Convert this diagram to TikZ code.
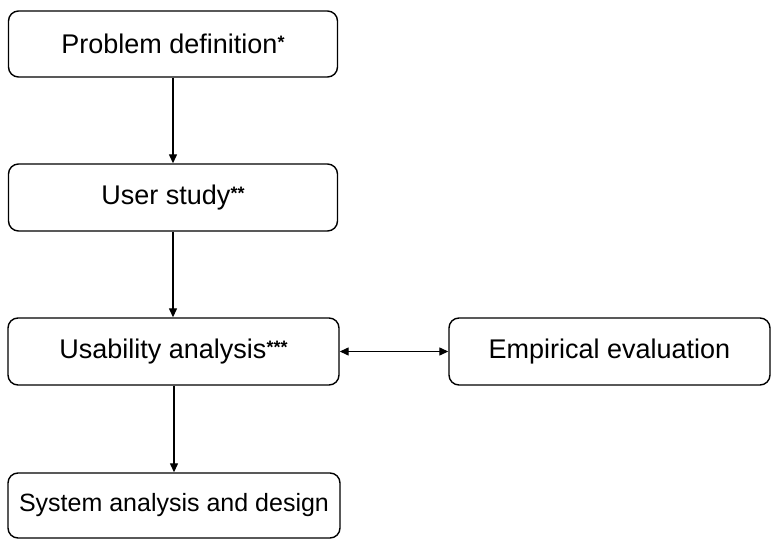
\documentclass[tikz,border=0pt]{standalone}
\usepackage{fontspec}
\setmainfont{Liberation Sans}
\usetikzlibrary{arrows.meta}
\tikzset{
  box/.style={draw=black, line width=1.4pt, rounded corners=10pt, fill=white,
    inner sep=0pt, font=\fontsize{27}{30}\selectfont},
  flow/.style={draw=black, line width=1.3pt, -{Triangle[length=9pt,width=8pt]}},
  both/.style={draw=black, line width=1.3pt, {Triangle[length=9pt,width=8pt]}-{Triangle[length=9pt,width=8pt]}}
}
\newcommand{\stars}[1]{\raisebox{5pt}{\fontsize{18}{18}\selectfont\bfseries #1}}
\begin{document}
\begin{tikzpicture}[x=1pt,y=-1pt]
\useasboundingbox (0,0) rectangle (771,540);
\node[box, minimum width=329pt, minimum height=66pt] (prob) at (173,44) {Problem definition\stars{*}};
\node[box, minimum width=329pt, minimum height=67pt] (user) at (173,197.5) {User study\stars{**}};
\node[box, minimum width=331pt, minimum height=67pt] (usab) at (173.5,351.5) {Usability analysis\stars{***}};
\node[box, minimum width=321pt, minimum height=67pt] (emp) at (609.5,351.5) {Empirical evaluation};
\node[box, minimum width=332pt, minimum height=65pt, font=\fontsize{25}{28}\selectfont] (sys) at (174,505.5) {System analysis and design};
\draw[flow] (prob.south -| 173,0) -- (user.north -| 173,0);
\draw[flow] (user.south -| 173,0) -- (usab.north -| 173,0);
\draw[flow] (usab.south -| 174,0) -- (sys.north -| 174,0);
\draw[both] (usab.east) -- (emp.west);
\end{tikzpicture}
\end{document}
